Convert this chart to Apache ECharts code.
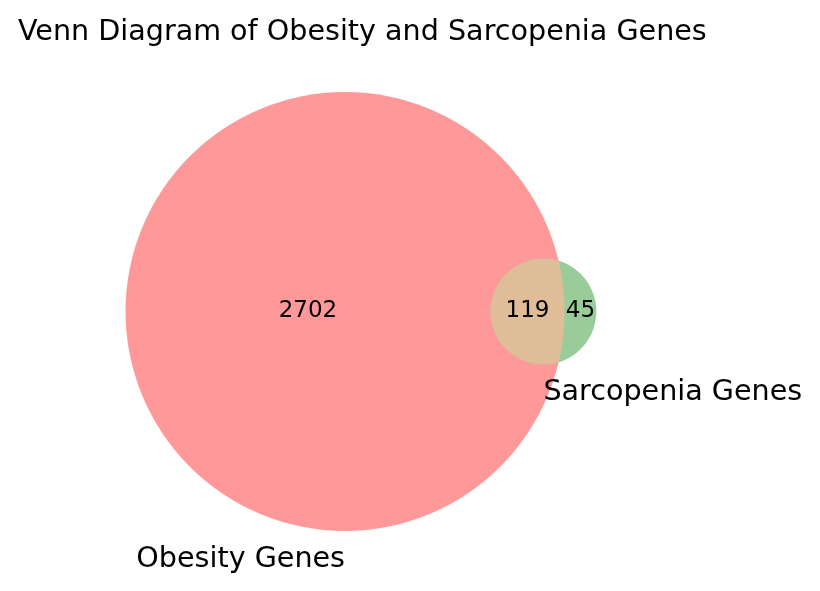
<!DOCTYPE html>
<html>
<head>
<meta charset="utf-8">
<script src="https://cdn.jsdelivr.net/npm/echarts@6/dist/echarts.min.js"></script>
<style>
html, body { margin: 0; padding: 0; background: #fff; }
#main { width: 820px; height: 591px; }
</style>
</head>
<body>
<div id="main"></div>
<script>
// 数据
var setNames = ['Obesity Genes', 'Sarcopenia Genes'];
var onlyCounts = [2702, 45];
var bothCount = 119;

var setColors = ['#ff9999', '#99cc99'];
var bothColor = '#e0bd99';
var font = 'DejaVu Sans';

// circle area ~ set size
var r1 = Math.sqrt((onlyCounts[0] + bothCount) / Math.PI);
var r2 = Math.sqrt((onlyCounts[1] + bothCount) / Math.PI);

function lensArea(d) {
    var a = r1 * r1 * Math.acos((d * d + r1 * r1 - r2 * r2) / (2 * d * r1));
    var b = r2 * r2 * Math.acos((d * d + r2 * r2 - r1 * r1) / (2 * d * r2));
    var c = 0.5 * Math.sqrt((-d + r1 + r2) * (d + r1 - r2) * (d - r1 + r2) * (d + r1 + r2));
    return a + b - c;
}
// find distance so overlap area matches
var lo = Math.abs(r1 - r2) + 1e-9, hi = r1 + r2 - 1e-9;
for (var i = 0; i < 100; i++) {
    var mid = (lo + hi) / 2;
    if (lensArea(mid) > bothCount) lo = mid; else hi = mid;
}
var d = (lo + hi) / 2;

// chord of the two circles
var xi = (d * d + r1 * r1 - r2 * r2) / (2 * d);
var h = Math.sqrt(r1 * r1 - xi * xi);

// screen mapping
var pxPerUnit = 219.5 / r1;
var cx = 345, cy = 311.5;
var W = 820, H = 591;

var chart = echarts.init(document.getElementById('main'));

function circleItem(params, api) {
    var c = api.coord([api.value(0), api.value(1)]);
    var r = api.size([api.value(2), 0])[0];
    return {
        type: 'circle',
        shape: { cx: c[0], cy: c[1], r: r },
        style: { fill: setColors[api.value(3)] }
    };
}

function lensItem(params, api) {
    var pts = [];
    var a0 = Math.atan2(h, xi - d);
    var n = 80;
    for (var k = 0; k <= n; k++) {
        var t = a0 + (2 * Math.PI - 2 * a0) * k / n;
        pts.push(api.coord([d + r2 * Math.cos(t), r2 * Math.sin(t)]));
    }
    var b0 = Math.atan2(h, xi);
    for (var k = 0; k <= n; k++) {
        var t = -b0 + 2 * b0 * k / n;
        pts.push(api.coord([r1 * Math.cos(t), r1 * Math.sin(t)]));
    }
    return {
        type: 'polygon',
        shape: { points: pts },
        style: { fill: bothColor }
    };
}

function textItem(params, api) {
    var p = api.coord([api.value(0), api.value(1)]);
    var kind = api.value(3);
    var txt, align = 'center', dy = 0, size = 23;
    if (kind === 0) {
        txt = String(api.value(2));
    } else {
        txt = setNames[kind - 1];
        align = kind === 1 ? 'right' : 'left';
        dy = 28.5;
        size = 28.6;
    }
    return {
        type: 'text',
        x: p[0],
        y: p[1] + dy,
        style: {
            text: txt,
            fill: '#000',
            fontSize: size,
            fontFamily: font,
            align: align,
            verticalAlign: 'middle'
        }
    };
}

var option = {
    animation: false,
    title: {
        text: 'Venn Diagram of Obesity and Sarcopenia Genes',
        left: 13,
        top: 13,
        textStyle: { fontFamily: font, fontSize: 28.6, fontWeight: 'normal', color: '#000' }
    },
    grid: { left: 0, right: 0, top: 0, bottom: 0 },
    xAxis: { type: 'value', show: false, min: -cx / pxPerUnit, max: (W - cx) / pxPerUnit },
    yAxis: { type: 'value', show: false, min: -(H - cy) / pxPerUnit, max: cy / pxPerUnit },
    series: [
        {
            type: 'custom',
            silent: true,
            renderItem: circleItem,
            data: [[0, 0, r1, 0], [d, 0, r2, 1]]
        },
        {
            type: 'custom',
            silent: true,
            renderItem: lensItem,
            data: [[xi, 0, bothCount]]
        },
        {
            type: 'custom',
            silent: true,
            renderItem: textItem,
            data: [
                [(-r1 + d - r2) / 2, 0, onlyCounts[0], 0],
                [(d - r2 + r1) / 2, 0, bothCount, 0],
                [(r1 + d + r2) / 2, 0, onlyCounts[1], 0],
                [0, -r1, 0, 1],
                [d, -r2, 0, 2]
            ]
        }
    ]
};
chart.setOption(option);
</script>
</body>
</html>
